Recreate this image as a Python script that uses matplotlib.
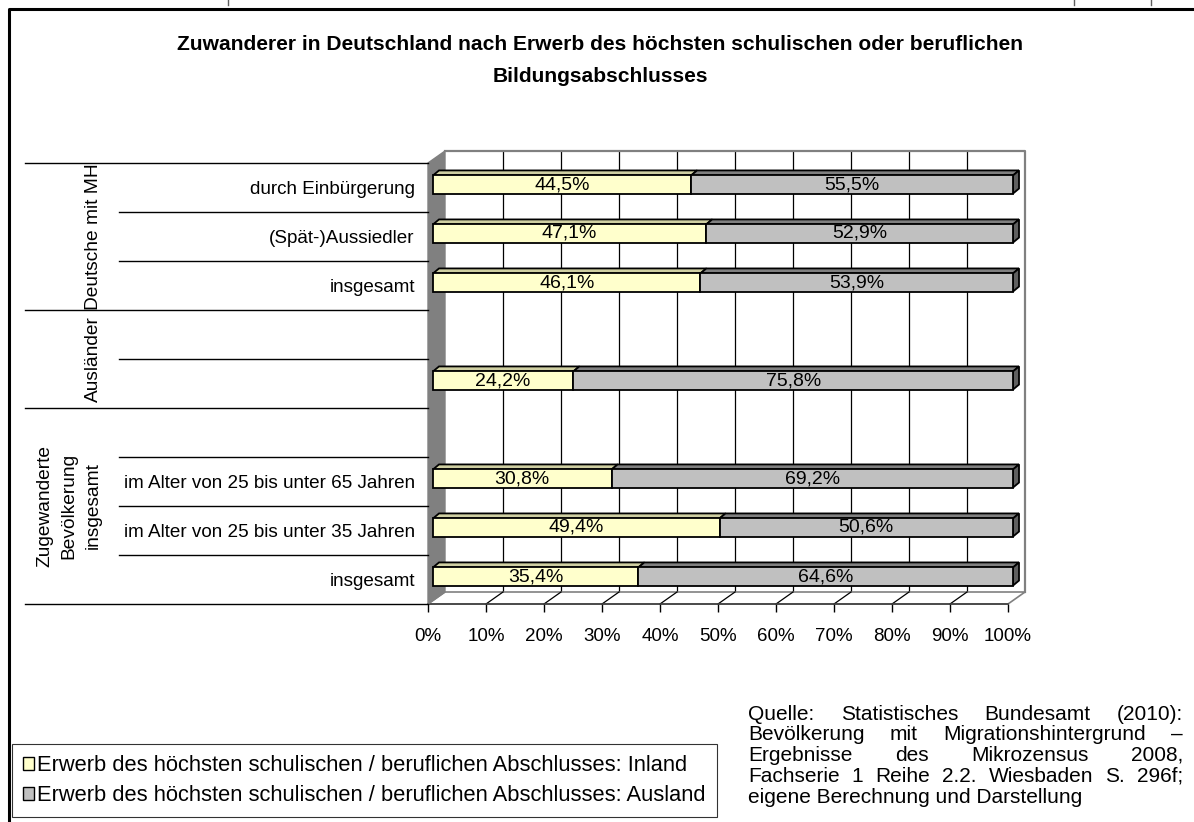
import matplotlib
matplotlib.use("Agg")
import matplotlib.pyplot as plt
import matplotlib.transforms as mtransforms
from matplotlib.patches import Polygon, Rectangle
from matplotlib.lines import Line2D

plt.rcParams['font.family'] = ['Liberation Sans', 'DejaVu Sans']

# ---------------- data ----------------
title_lines = ["Zuwanderer in Deutschland nach Erwerb des höchsten schulischen oder beruflichen",
               "Bildungsabschlusses"]
rows = ["durch Einbürgerung", "(Spät-)Aussiedler", "insgesamt", "", "", "",
        "im Alter von 25 bis unter 65 Jahren", "im Alter von 25 bis unter 35 Jahren",
        "insgesamt"]
inland = [44.5, 47.1, 46.1, None, 24.2, None, 30.8, 49.4, 35.4]
ausland = [55.5, 52.9, 53.9, None, 75.8, None, 69.2, 50.6, 64.6]
groups = ["Deutsche mit MH", "Ausländer", "Zugewanderte\nBevölkerung\ninsgesamt"]
group_spans = [(0, 3), (3, 5), (5, 9)]
xticks = [0, 10, 20, 30, 40, 50, 60, 70, 80, 90, 100]
xtick_labels = [f"{v}%" for v in xticks]
series_labels = ["Erwerb des höchsten schulischen / beruflichen Abschlusses: Inland",
                 "Erwerb des höchsten schulischen / beruflichen Abschlusses: Ausland"]
source_lines = ["Quelle: Statistisches Bundesamt (2010):",
                "Bevölkerung mit Migrationshintergrund –",
                "Ergebnisse des Mikrozensus 2008,",
                "Fachserie 1 Reihe 2.2. Wiesbaden S. 296f;",
                "eigene Berechnung und Darstellung"]

# ---------------- style ----------------
W, H = 1194, 822
C_IN, C_IN_TOP = "#FFFFCC", "#CFCFA2"
C_OUT, C_OUT_TOP, C_OUT_SIDE = "#C0C0C0", "#808080", "#5F5F5F"
WALL = "#808080"
DX, DY = 17, 12          # depth of the 3-D box in pixels
BOFF = (5, 3)            # bar front face offset
TOFF = (6, 5)            # bar depth
FS_CAT = 13.6
FS_VAL = 14

fig = plt.figure(figsize=(W / 100, H / 100), dpi=100)
fx = lambda px: px / W
fy = lambda py: 1 - py / H
renderer = fig.canvas.get_renderer()


def text_width(s, fs, **kw):
    t = fig.text(0, 0, s, fontsize=fs, **kw)
    w = t.get_window_extent(renderer).width
    t.remove()
    return w


def fit_size(s, target_px, **kw):
    return 12 * target_px / text_width(s, 12, **kw)


ax = fig.add_axes([fx(428), fy(604), 580 / W, 441 / H])
ax.set_xlim(0, 100)
ax.set_ylim(9, 0)
ax.patch.set_visible(False)
for s in ax.spines.values():
    s.set_visible(False)
ax.set_autoscale_on(False)

ID = mtransforms.IdentityTransform()
td = ax.transData.transform


def poly(pts, **kw):
    ax.add_patch(Polygon(pts, closed=True, transform=ID, clip_on=False, **kw))


def line(xs, ys, **kw):
    ax.add_line(Line2D(xs, ys, transform=ID, clip_on=False, **kw))


x0, yb = td((0, 9))
x1, yt = td((100, 0))

# back wall
poly([(x0 + DX, yb + DY), (x1 + DX, yb + DY), (x1 + DX, yt + DY), (x0 + DX, yt + DY)],
     facecolor="white", edgecolor="none", zorder=0)
for v in xticks[1:-1]:
    xv = td((v, 0))[0]
    line([xv + DX, xv + DX], [yb + DY, yt + DY], color="black", lw=0.9, zorder=1)
line([x0 + DX, x1 + DX, x1 + DX], [yt + DY, yt + DY, yb + DY], color=WALL, lw=1.6, zorder=1)
# floor
poly([(x0, yb), (x1, yb), (x1 + DX, yb + DY), (x0 + DX, yb + DY)],
     facecolor="white", edgecolor=WALL, lw=1.2, zorder=1)
for v in xticks[1:-1]:
    xv = td((v, 0))[0]
    line([xv, xv + DX], [yb, yb + DY], color="black", lw=0.9, zorder=2)
line([x0, x1], [yb, yb], color="#404040", lw=1.2, zorder=2)
# left wall
poly([(x0, yb), (x0, yt), (x0 + DX, yt + DY), (x0 + DX, yb + DY)],
     facecolor=WALL, edgecolor=WALL, lw=1, zorder=2)

# axes ticks / labels
ax.set_xticks(xticks, xtick_labels)
ax.tick_params(axis="x", length=6, width=1, color="black", pad=11, labelsize=13.5)
ypos = [i + 0.5 for i in range(len(rows))]
ax.set_yticks(ypos, rows)
ax.tick_params(axis="y", length=0, pad=9.5, labelsize=FS_CAT)

# category separators on the left
blend = mtransforms.blended_transform_factory(fig.transFigure, ax.transData)
long_b = {b for span in group_spans for b in span}
for b in range(len(rows) + 1):
    start = 25 if b in long_b else 119
    ax.add_line(Line2D([fx(start), fx(428)], [b, b], transform=blend, color="black",
                       lw=1, clip_on=False))
for g, (a, b), gx in zip(groups, group_spans, [93, 93, 69]):
    ax.text(fx(gx), (a + b) / 2, g, transform=blend, rotation=90, ha="center",
            va="center", fontsize=13.8, linespacing=1.55, multialignment="center")

# bars
bar_tr = ax.transData + mtransforms.Affine2D().translate(*BOFF)
BH = 0.37
lefts = [0] * len(rows)
series = [(inland, C_IN, C_IN_TOP), (ausland, C_OUT, C_OUT_TOP)]
for si, (vals, fc, tc) in enumerate(series):
    idx = [i for i, v in enumerate(vals) if v is not None]
    ys = [ypos[i] for i in idx]
    ws = [vals[i] for i in idx]
    ls = [lefts[i] for i in idx]
    rects = ax.barh(ys, ws, left=ls, height=BH, color=fc, edgecolor="black",
                    linewidth=1.3, zorder=6)
    for r, y, w, l in zip(rects, ys, ws, ls):
        r.set_transform(bar_tr)
        r.set_clip_on(False)
        ax_, ay_ = td((l, y - BH / 2))
        bx_, by_ = td((l + w, y + BH / 2))
        ax_ += BOFF[0]; bx_ += BOFF[0]
        top, bot = ay_ + BOFF[1], by_ + BOFF[1]
        poly([(ax_, top), (bx_, top), (bx_ + TOFF[0], top + TOFF[1]), (ax_ + TOFF[0], top + TOFF[1])],
             facecolor=tc, edgecolor="black", lw=1.3, zorder=5)
        if si == len(series) - 1:
            poly([(bx_, bot), (bx_, top), (bx_ + TOFF[0], top + TOFF[1]), (bx_ + TOFF[0], bot + TOFF[1])],
                 facecolor=C_OUT_SIDE, edgecolor="black", lw=1.3, zorder=5)
        ax.text(l + w / 2, y, f"{w:.1f}%".replace(".", ","), transform=bar_tr,
                ha="center", va="center", fontsize=FS_VAL, zorder=8)
    for i in idx:
        lefts[i] += vals[i]

# title (sized so that the first line spans the same width as in the original)
fs_title = fit_size(title_lines[0], 844, fontweight="bold")
for tl, ty in zip(title_lines, [45, 76]):
    fig.text(fx(600), fy(ty), tl, ha="center", va="center", fontsize=fs_title,
             fontweight="bold")

# legend
fs_leg = fit_size(series_labels[1], 668)
handles = [Rectangle((0, 0), 1, 1, facecolor=c, edgecolor="black", lw=1)
           for c in (C_IN, C_OUT)]
leg = fig.legend(handles, series_labels, loc="lower left",
                 bbox_to_anchor=(fx(12), fy(817)), borderaxespad=0, frameon=True,
                 fancybox=False, edgecolor="black", fontsize=fs_leg, handlelength=0.5,
                 handleheight=0.5, handletextpad=0.15, borderpad=0.5, labelspacing=0.4)
leg.get_frame().set_linewidth(0.8)

# justified source text
SX0, SX1 = 748, 1183
src_fs = 15
src_y = [714, 734, 755, 776, 797]
for k, (ln, y) in enumerate(zip(source_lines, src_y)):
    words = ln.split(" ")
    if k == len(source_lines) - 1 or len(words) == 1:
        fig.text(fx(SX0), fy(y), ln, ha="left", va="center", fontsize=src_fs)
        continue
    widths = [text_width(w, src_fs) for w in words]
    gap = (SX1 - SX0 - sum(widths)) / (len(words) - 1)
    xcur = SX0
    for w, wd in zip(words, widths):
        fig.text(fx(xcur), fy(y), w, ha="left", va="center", fontsize=src_fs)
        xcur += wd + gap

# outer frame and small marks at the top
fig.add_artist(Line2D([fx(9), fx(9), fx(1194)], [fy(822), fy(9), fy(9)], color="black",
                      lw=2.2, transform=fig.transFigure))
for mx in (228, 1074, 1151):
    fig.add_artist(Line2D([fx(mx), fx(mx)], [fy(0), fy(5)], color="#606060", lw=1,
                          transform=fig.transFigure))

fig.savefig("out.png", dpi=100)
